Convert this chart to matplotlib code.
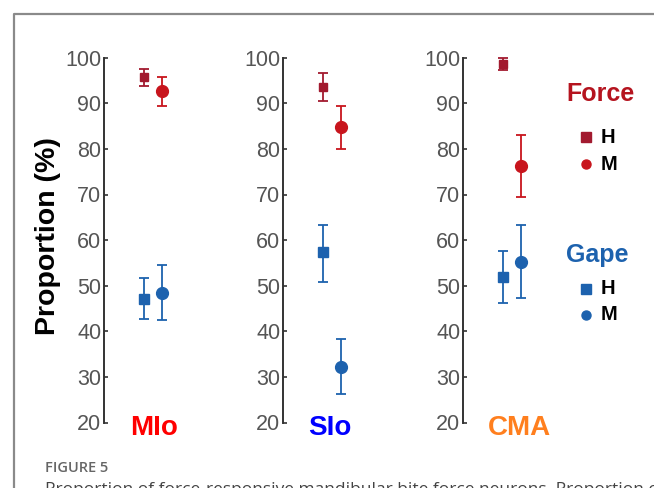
import matplotlib
matplotlib.use('agg')
import matplotlib.pyplot as plt
from matplotlib import font_manager
from matplotlib.lines import Line2D

# --- data ---
regions = ['MIo', 'SIo', 'CMA']
region_colors = ['#FF0000', '#0000FF', '#FF7F1E']

force_h = [95.8, 93.5, 98.6]
force_h_lo = [93.9, 90.4, 97.3]
force_h_hi = [97.5, 96.6, 99.9]

force_m = [92.6, 84.7, 76.3]
force_m_lo = [89.3, 80.0, 69.4]
force_m_hi = [95.7, 89.3, 83.1]

gape_h = [47.1, 57.3, 51.9]
gape_h_lo = [42.6, 50.9, 46.2]
gape_h_hi = [51.6, 63.4, 57.7]

gape_m = [48.5, 32.2, 55.3]
gape_m_lo = [42.5, 26.2, 47.2]
gape_m_hi = [54.5, 38.3, 63.4]

yticks = [20, 30, 40, 50, 60, 70, 80, 90, 100]

FORCE_H_C = '#A21A2F'
FORCE_M_C = '#C8151D'
FORCE_TXT_C = '#B5141F'
GAPE_C = '#1D62AE'

names = set(f.name for f in font_manager.fontManager.ttflist)
tick_font = 'Liberation Sans Narrow' if 'Liberation Sans Narrow' in names else 'Liberation Sans'
plt.rcParams['font.family'] = ['Liberation Sans', 'DejaVu Sans']

W, H = 654, 488
fig = plt.figure(figsize=(W / 100, H / 100), dpi=100)


def fx(px):
    return px / W


def fy(py):
    return 1 - py / H


ax_left = [104, 283, 463]
ax_top, ax_bot = 57.7, 422.5
ax_w = 100


def errs(v, lo, hi):
    return [[v - lo], [hi - v]]


for i in range(3):
    ax = fig.add_axes([fx(ax_left[i]), fy(ax_bot), ax_w / W, (ax_bot - ax_top) / H])
    ax.set_xlim(-1.222, -1.222 + ax_w / 18)
    ax.set_ylim(20, 100)
    for s in ['top', 'right', 'bottom']:
        ax.spines[s].set_visible(False)
    ax.spines['left'].set_color('#333333')
    ax.spines['left'].set_linewidth(1.4)
    ax.set_xticks([])
    ax.set_yticks(yticks)
    ax.tick_params(axis='y', direction='in', length=3, width=1.2, color='#333333',
                   labelcolor='#555555', labelsize=15.5, pad=2)
    for lab in ax.get_yticklabels():
        lab.set_family(tick_font)
    ax.patch.set_alpha(0)

    ekw = dict(capsize=3.5, elinewidth=1.3, capthick=1.3, linestyle='none', clip_on=False)
    ax.errorbar([1], [force_h[i]], yerr=errs(force_h[i], force_h_lo[i], force_h_hi[i]),
                marker='s', ms=6, color=FORCE_H_C, **ekw)
    ax.errorbar([2], [force_m[i]], yerr=errs(force_m[i], force_m_lo[i], force_m_hi[i]),
                marker='o', ms=8.5, color=FORCE_M_C, **ekw)
    ax.errorbar([1], [gape_h[i]], yerr=errs(gape_h[i], gape_h_lo[i], gape_h_hi[i]),
                marker='s', ms=7, color=GAPE_C, **ekw)
    ax.errorbar([2], [gape_m[i]], yerr=errs(gape_m[i], gape_m_lo[i], gape_m_hi[i]),
                marker='o', ms=8.5, color=GAPE_C, **ekw)

# region names under the axes
title_x = [154, 330, 519]
for i in range(3):
    fig.text(fx(title_x[i]), fy(428), regions[i], color=region_colors[i],
             fontsize=20, fontweight='bold', ha='center', va='center')

fig.text(fx(48), fy(236), 'Proportion (%)', rotation=90, fontsize=20.5,
         fontweight='bold', ha='center', va='center', color='black')

# legend
fig.text(fx(600), fy(94), 'Force', color=FORCE_TXT_C, fontsize=18, fontweight='bold',
         ha='center', va='center')
fig.text(fx(597), fy(255), 'Gape', color=GAPE_C, fontsize=18, fontweight='bold',
         ha='center', va='center')
leg = [(137, 's', FORCE_H_C, 'H'), (164, 'o', FORCE_M_C, 'M'),
       (289, 's', GAPE_C, 'H'), (315, 'o', GAPE_C, 'M')]
for py, mk, c, lab in leg:
    fig.add_artist(Line2D([fx(586)], [fy(py)], marker=mk, ms=6.5, color=c,
                          linestyle='none', transform=fig.transFigure))
    fig.text(fx(601), fy(py), lab, fontsize=14.5, fontweight='bold', color='black',
             ha='left', va='center')

# page frame and caption (the caption line is cut by the bottom edge, as in the source)
fig.add_artist(Line2D([fx(13.5), fx(13.5), fx(700)], [fy(500), fy(13.5), fy(13.5)],
                      color='#8a8a8a', lw=1.6, transform=fig.transFigure))
fig.text(fx(45), fy(468), 'FIGURE 5', fontsize=10.5, color='#666666', fontweight='semibold',
         family=['Open Sans', 'DejaVu Sans'], ha='left', va='center')
fig.text(fx(45), fy(482), 'Proportion of force-responsive mandibular bite force neurons. Proportion of force',
         fontsize=12.5, color='#444444', family=['Open Sans', 'DejaVu Sans'],
         ha='left', va='top')

fig.savefig('out.png', dpi=100)
